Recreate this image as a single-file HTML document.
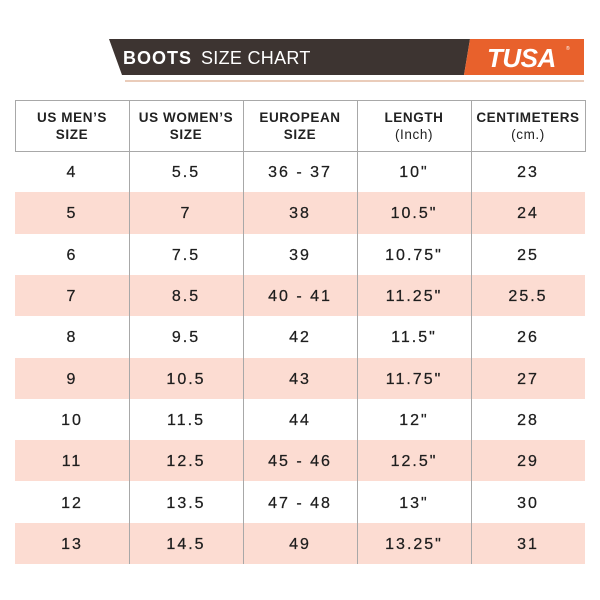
<!DOCTYPE html>
<html><head><meta charset="utf-8">
<style>
html,body{margin:0;padding:0;background:#fff;}
body{width:600px;height:600px;position:relative;overflow:hidden;font-family:"Liberation Sans",sans-serif;}
.abs{position:absolute;}
.hd{position:absolute;top:100px;height:51px;width:114px;display:flex;flex-direction:column;justify-content:center;align-items:center;font-weight:bold;font-size:13.5px;line-height:17px;color:#222;letter-spacing:0.6px;text-align:center;}
.row{position:absolute;left:15px;width:570px;height:41.3px;}
.pink{background:#fcdcd2;}
.cell{position:absolute;top:0;height:100%;width:114px;display:flex;align-items:center;justify-content:center;font-size:16px;letter-spacing:2px;color:#1e1e1e;padding-top:3px;box-sizing:border-box;-webkit-text-stroke:0.25px #1e1e1e;}
.vl{position:absolute;width:1px;background:#a8a8a8;}
</style></head><body>
<svg class="abs" style="left:0;top:0" width="600" height="100">
<polygon points="109,39 470,39 464,75 122,75" fill="#3d3431"/>
<polygon points="470,39 584,39 584,75 464,75" fill="#e8612c"/>
<line x1="125" y1="81" x2="584" y2="81" stroke="#e3bba4" stroke-width="1.5"/>
<text x="123" y="64" fill="#fff" font-family="Liberation Sans, sans-serif" font-size="18" font-weight="bold" letter-spacing="1">BOOTS</text>
<text x="201" y="64" fill="#fff" font-family="Liberation Sans, sans-serif" font-size="18" letter-spacing="0.3">SIZE CHART</text>
<text x="487" y="67" fill="#fff" font-family="Liberation Sans, sans-serif" font-size="26" font-weight="bold" font-style="italic" letter-spacing="-0.5">TUSA</text>
<text x="566" y="50" fill="#fff" font-family="Liberation Sans, sans-serif" font-size="5">®</text>
</svg>

<div class="abs" style="left:15px;top:100px;width:569px;height:50px;border:1px solid #a8a8a8;"></div>
<div class="hd" style="left:15px">US MEN’S<br>SIZE</div>
<div class="hd" style="left:129px">US WOMEN’S<br>SIZE</div>
<div class="hd" style="left:243px">EUROPEAN<br>SIZE</div>
<div class="hd" style="left:357px"><div>LENGTH</div><div style="font-weight:normal">(Inch)</div></div>
<div class="hd" style="left:471px"><div>CENTIMETERS</div><div style="font-weight:normal">(cm.)</div></div>

<div class="row" style="top:151px"><div class="cell" style="left:0">4</div><div class="cell" style="left:114px">5.5</div><div class="cell" style="left:228px">36 - 37</div><div class="cell" style="left:342px">10"</div><div class="cell" style="left:456px">23</div></div>
<div class="row pink" style="top:192.3px"><div class="cell" style="left:0">5</div><div class="cell" style="left:114px">7</div><div class="cell" style="left:228px">38</div><div class="cell" style="left:342px">10.5"</div><div class="cell" style="left:456px">24</div></div>
<div class="row" style="top:233.6px"><div class="cell" style="left:0">6</div><div class="cell" style="left:114px">7.5</div><div class="cell" style="left:228px">39</div><div class="cell" style="left:342px">10.75"</div><div class="cell" style="left:456px">25</div></div>
<div class="row pink" style="top:274.9px"><div class="cell" style="left:0">7</div><div class="cell" style="left:114px">8.5</div><div class="cell" style="left:228px">40 - 41</div><div class="cell" style="left:342px">11.25"</div><div class="cell" style="left:456px">25.5</div></div>
<div class="row" style="top:316.2px"><div class="cell" style="left:0">8</div><div class="cell" style="left:114px">9.5</div><div class="cell" style="left:228px">42</div><div class="cell" style="left:342px">11.5"</div><div class="cell" style="left:456px">26</div></div>
<div class="row pink" style="top:357.5px"><div class="cell" style="left:0">9</div><div class="cell" style="left:114px">10.5</div><div class="cell" style="left:228px">43</div><div class="cell" style="left:342px">11.75"</div><div class="cell" style="left:456px">27</div></div>
<div class="row" style="top:398.8px"><div class="cell" style="left:0">10</div><div class="cell" style="left:114px">11.5</div><div class="cell" style="left:228px">44</div><div class="cell" style="left:342px">12"</div><div class="cell" style="left:456px">28</div></div>
<div class="row pink" style="top:440.1px"><div class="cell" style="left:0">11</div><div class="cell" style="left:114px">12.5</div><div class="cell" style="left:228px">45 - 46</div><div class="cell" style="left:342px">12.5"</div><div class="cell" style="left:456px">29</div></div>
<div class="row" style="top:481.4px"><div class="cell" style="left:0">12</div><div class="cell" style="left:114px">13.5</div><div class="cell" style="left:228px">47 - 48</div><div class="cell" style="left:342px">13"</div><div class="cell" style="left:456px">30</div></div>
<div class="row pink" style="top:522.7px"><div class="cell" style="left:0">13</div><div class="cell" style="left:114px">14.5</div><div class="cell" style="left:228px">49</div><div class="cell" style="left:342px">13.25"</div><div class="cell" style="left:456px">31</div></div>

<div class="vl" style="left:129px;top:100px;height:464px"></div>
<div class="vl" style="left:243px;top:100px;height:464px"></div>
<div class="vl" style="left:357px;top:100px;height:464px"></div>
<div class="vl" style="left:471px;top:100px;height:464px"></div>
</body></html>
